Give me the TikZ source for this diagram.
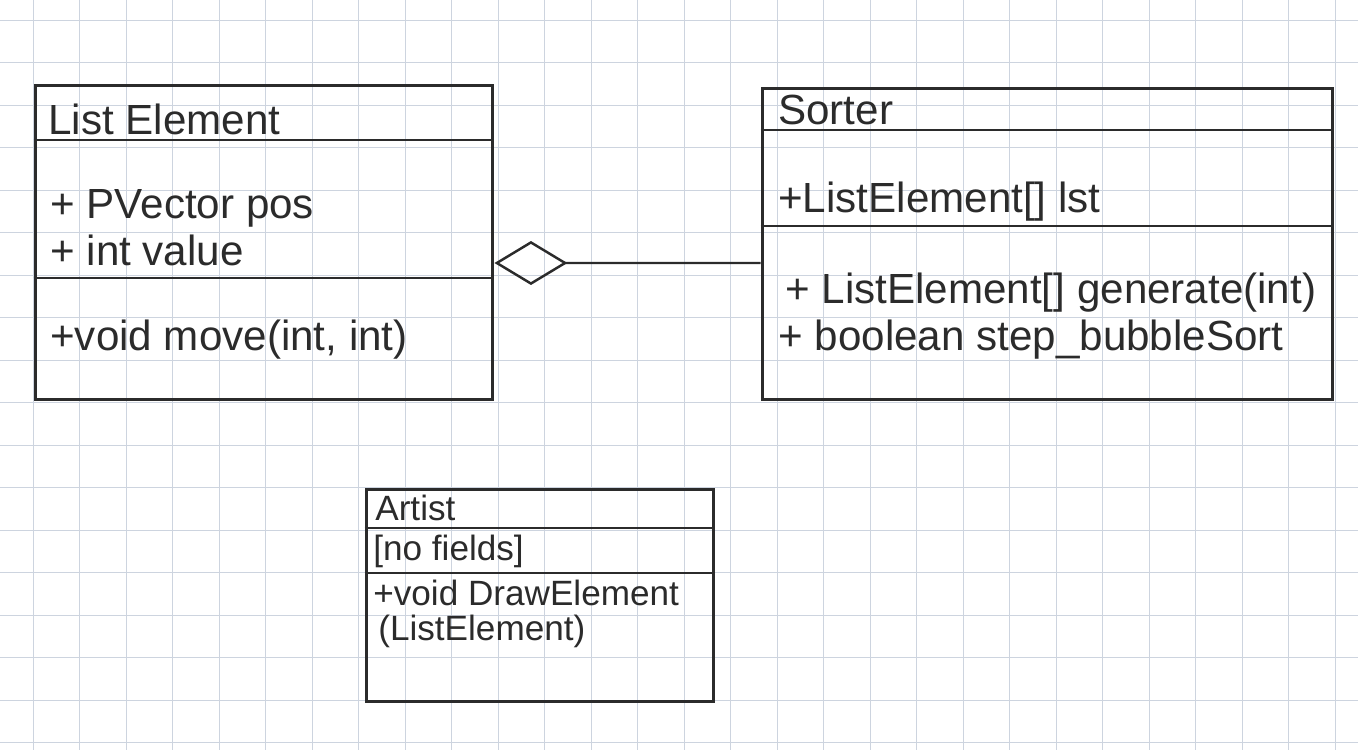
\documentclass[tikz,border=0pt]{standalone}
\usepackage{fontspec}
\setmainfont{Liberation Sans}
\usetikzlibrary{arrows.meta}
\definecolor{cInk}{HTML}{2B2B2B}
\definecolor{cGrid}{HTML}{CDD4DF}
\tikzset{
  every node/.style={text=cInk},
  umlbox/.style={draw=cInk, line width=1.7pt, inner sep=0pt},
  sepln/.style={draw=cInk, line width=1.6pt},
  lbl/.style={anchor=base west, inner sep=0pt, font=\fontsize{24}{28}\selectfont},
  slbl/.style={anchor=base west, inner sep=0pt, font=\fontsize{20}{24}\selectfont},
  agg/.style={-{Diamond[open, length=1.46cm, width=0.88cm, line width=1.4pt]}, line width=1.3pt, draw=cInk},
  gridln/.style={draw=cGrid, line width=0.5pt},
}
\begin{document}
\begin{tikzpicture}[x=0.02cm,y=-0.02cm]
\useasboundingbox (0,0) rectangle (1358,750);
% paper grid
\begin{scope}
\clip (0,0) rectangle (1358,750);
\foreach \gx in {0,...,28} \draw[gridln] ({33+46.5*\gx},0) -- ++(0,750);
\foreach \gy in {0,...,17} \draw[gridln] (0,{20+42.5*\gy}) -- ++(1358,0);
\end{scope}
% class ListElement
\node[umlbox, minimum width=9.16cm, minimum height=6.3cm] (le) at (264,242.5) {};
\draw[sepln] (le.west |- 0,140) -- (le.east |- 0,140);
\draw[sepln] (le.west |- 0,278) -- (le.east |- 0,278);
\node[lbl] (leName) at (48,134) {List Element};
\node[lbl] (leA1) at (50,218) {+ PVector pos};
\node[lbl] (leA2) at (50,265) {+ int value};
\node[lbl] (leM1) at (50,350) {+void move(int, int)};
% class Sorter
\node[umlbox, minimum width=11.42cm, minimum height=6.24cm] (srt) at (1047.5,244) {};
\draw[sepln] (srt.west |- 0,130) -- (srt.east |- 0,130);
\draw[sepln] (srt.west |- 0,226) -- (srt.east |- 0,226);
\node[lbl] (srtName) at (778,124) {Sorter};
\node[lbl] (srtA1) at (778,212) {+ListElement[] lst};
\node[lbl] (srtM1) at (785,303) {+ ListElement[] generate(int)};
\node[lbl] (srtM2) at (778,350) {+ boolean step\_bubbleSort};
% class Artist
\node[umlbox, minimum width=6.96cm, minimum height=4.26cm] (art) at (540,595.5) {};
\draw[sepln] (art.west |- 0,528) -- (art.east |- 0,528);
\draw[sepln] (art.west |- 0,573) -- (art.east |- 0,573);
\node[slbl] (artName) at (375,520) {Artist};
\node[slbl] (artA1) at (373,560) {[no fields]};
\node[slbl] (artM1) at (373,605) {+void DrawElement};
\node[slbl] (artM2) at (378,640) {(ListElement)};
% aggregation
\draw[agg] ([yshift=-0.38cm]srt.west) -- ([yshift=-0.41cm]le.east);
\end{tikzpicture}
\end{document}
